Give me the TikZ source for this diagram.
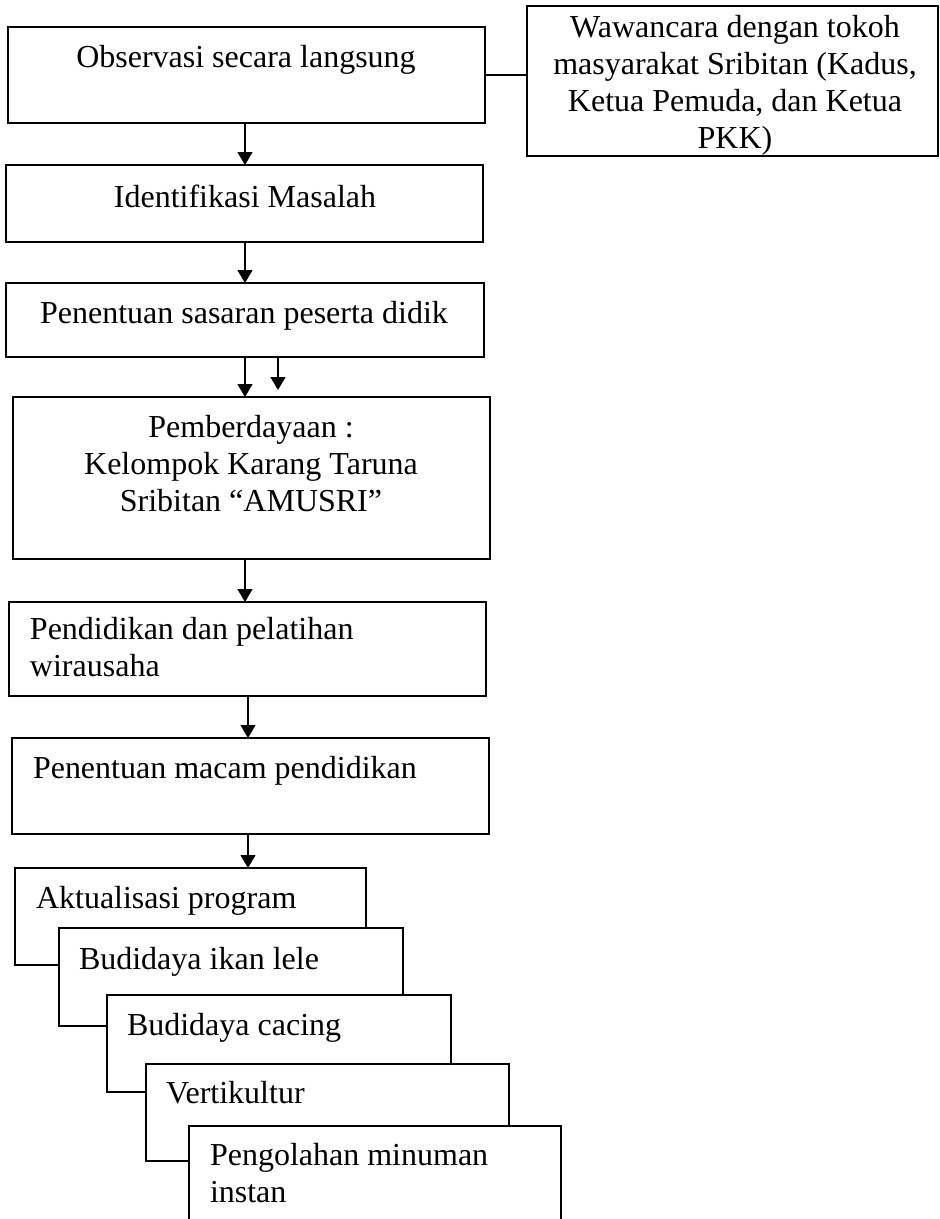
\documentclass[tikz,border=0pt]{standalone}
\usepackage{fontspec}
\setmainfont{Liberation Serif}
\usetikzlibrary{arrows.meta}
\begin{document}
\begin{tikzpicture}[x=1pt,y=-1pt,
  boxst/.style={draw, line width=1.6pt, fill=white, inner sep=0pt, outer sep=0pt, rectangle},
  txt/.style={inner sep=0pt, outer sep=0pt, font=\fontsize{32}{37}\selectfont},
  arr/.style={line width=1.4pt, -{Triangle[width=15pt,length=13pt]}},
  lnk/.style={line width=1.4pt}]
\path[use as bounding box] (0,0) rectangle (940,1219);
\clip (0,0) rectangle (940,1219);
\setlength{\tabcolsep}{0pt}

\coordinate (ax1) at (245,0);
\coordinate (ax2) at (248,0);
\coordinate (ax3) at (278,0);
\coordinate (endx) at (278,390);

% upper chain
\node[boxst, minimum width=477pt, minimum height=96pt] (obs) at (246.5,75) {};
\node[txt, anchor=base] (tobs) at (246,67) {Observasi secara langsung};

\node[boxst, minimum width=411pt, minimum height=150pt] (waw) at (732.5,81) {};
\node[txt, anchor=base] (twaw) at (735,37) {\begin{tabular}[t]{c}Wawancara dengan tokoh\\ masyarakat Sribitan (Kadus,\\ Ketua Pemuda, dan Ketua\\ PKK)\end{tabular}};

\node[boxst, minimum width=477pt, minimum height=77pt] (ident) at (244.5,203.5) {};
\node[txt, anchor=base] (tident) at (245,207) {Identifikasi Masalah};

\node[boxst, minimum width=478pt, minimum height=74pt] (sas) at (245,320) {};
\node[txt, anchor=base] (tsas) at (244,323) {Penentuan sasaran peserta didik};

\node[boxst, minimum width=477pt, minimum height=162pt] (pemb) at (251.5,478) {};
\node[txt, anchor=base] (tpemb) at (251,437) {\begin{tabular}[t]{c}Pemberdayaan :\\ Kelompok Karang Taruna\\ Sribitan “AMUSRI”\end{tabular}};

\node[boxst, minimum width=477pt, minimum height=94pt] (pend) at (247.5,649) {};
\node[txt, anchor=base west] (tpend) at (30,639) {\begin{tabular}[t]{l}Pendidikan dan pelatihan\\ wirausaha\end{tabular}};

\node[boxst, minimum width=477pt, minimum height=96pt] (macam) at (250.5,786) {};
\node[txt, anchor=base west] (tmacam) at (33,778) {Penentuan macam pendidikan};

% staircase
\node[boxst, minimum width=351pt, minimum height=97pt] (akt) at (190.5,916.5) {};
\node[txt, anchor=base west] (takt) at (36,908) {Aktualisasi program};
\node[boxst, minimum width=344pt, minimum height=98pt] (lele) at (231,977) {};
\node[txt, anchor=base west] (tlele) at (79,969) {Budidaya ikan lele};
\node[boxst, minimum width=344pt, minimum height=97pt] (cacing) at (279,1043.5) {};
\node[txt, anchor=base west] (tcacing) at (127,1035) {Budidaya cacing};
\node[boxst, minimum width=363pt, minimum height=97pt] (vert) at (327.5,1112.5) {};
\node[txt, anchor=base west] (tvert) at (166,1103) {Vertikultur};
\node[boxst, minimum width=372pt, minimum height=98pt] (peng) at (375,1175) {};
\node[txt, anchor=base west] (tpeng) at (210,1165) {\begin{tabular}[t]{l}Pengolahan minuman\\ instan\end{tabular}};

% connectors
\draw[lnk] (obs.east) -- (obs.east -| waw.west);
\draw[arr] (ax1 |- obs.south) -- (ax1 |- ident.north);
\draw[arr] (ax1 |- ident.south) -- (ax1 |- sas.north);
\draw[arr] (ax1 |- sas.south) -- (ax1 |- pemb.north);
\draw[arr] (ax3 |- sas.south) -- (endx);
\draw[arr] (ax1 |- pemb.south) -- (ax1 |- pend.north);
\draw[arr] (ax2 |- pend.south) -- (ax2 |- macam.north);
\draw[arr] (ax2 |- macam.south) -- (ax2 |- akt.north);
\end{tikzpicture}
\end{document}
